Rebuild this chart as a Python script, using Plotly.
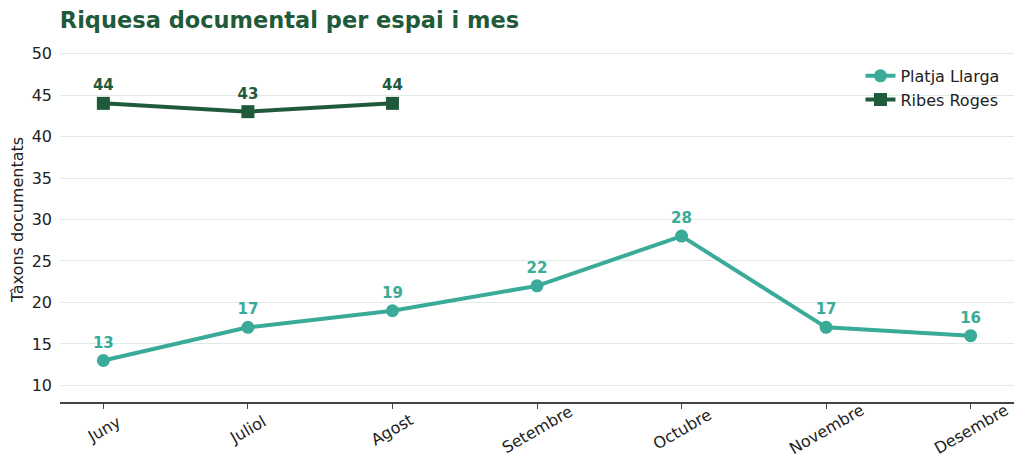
import plotly.graph_objs as go

mesos = ['Juny', 'Juliol', 'Agost', 'Setembre', 'Octubre', 'Novembre', 'Desembre']
platja_llarga = [13, 17, 19, 22, 28, 17, 16]
ribes_roges = [44, 43, 44]

teal = '#3aab98'
dark = '#1f5b3b'

fig = go.Figure()
fig.add_trace(go.Scatter(x=list(range(len(mesos))), y=platja_llarga,
                         name='Platja Llarga', mode='lines+markers+text',
                         line=dict(color=teal, width=4),
                         marker=dict(symbol='circle', size=13, color=teal),
                         text=[str(v) for v in platja_llarga], textposition='top center',
                         textfont=dict(family='DejaVu Sans', size=15, color=teal, weight='bold'),
                         cliponaxis=False))
fig.add_trace(go.Scatter(x=list(range(len(ribes_roges))), y=ribes_roges,
                         name='Ribes Roges', mode='lines+markers+text',
                         line=dict(color=dark, width=4),
                         marker=dict(symbol='square', size=13, color=dark),
                         text=[str(v) for v in ribes_roges], textposition='top center',
                         textfont=dict(family='DejaVu Sans', size=15, color=dark, weight='bold'),
                         cliponaxis=False))

# month labels centred under each tick, rotated like the original
for i, m in enumerate(mesos):
    fig.add_annotation(x=i, y=0, xref='x', yref='paper', text=m, showarrow=False,
                       textangle=-30, xanchor='center', yanchor='middle', yshift=-27,
                       font=dict(size=16, color='#222'))

# page body has an 8px margin, so the figure is a bit smaller than the window
fig.update_layout(
    width=1016, height=466,
    margin=dict(l=52, r=10, t=29, b=72),
    paper_bgcolor='white', plot_bgcolor='white',
    font=dict(family='DejaVu Sans', size=16, color='#222'),
    title=dict(text='<b>Riquesa documental per espai i mes</b>', x=0.051, xanchor='left',
               xref='container', y=0.974, yanchor='middle', font=dict(size=22.5, color=dark)),
    legend=dict(x=0.99, y=0.94, xanchor='right', yanchor='top', bgcolor='rgba(0,0,0,0)',
                font=dict(size=16, color='#222'), tracegroupgap=0),
    showlegend=True,
)
fig.update_xaxes(range=[-0.3, 6.3], tickvals=list(range(len(mesos))), showticklabels=False,
                 showgrid=False, showline=True, linecolor='#444', linewidth=1.5,
                 ticks='outside', ticklen=5, tickcolor='#444', zeroline=False, automargin=False)
fig.update_yaxes(range=[8, 52], tickvals=[10, 15, 20, 25, 30, 35, 40, 45, 50],
                 showgrid=True, gridcolor='#ddeae7', gridwidth=1, zeroline=False,
                 showline=False, ticks='', ticklabelstandoff=7, automargin=False,
                 title=dict(text='Tàxons documentats', standoff=6, font=dict(size=16)))

fig.write_html('out.html')
